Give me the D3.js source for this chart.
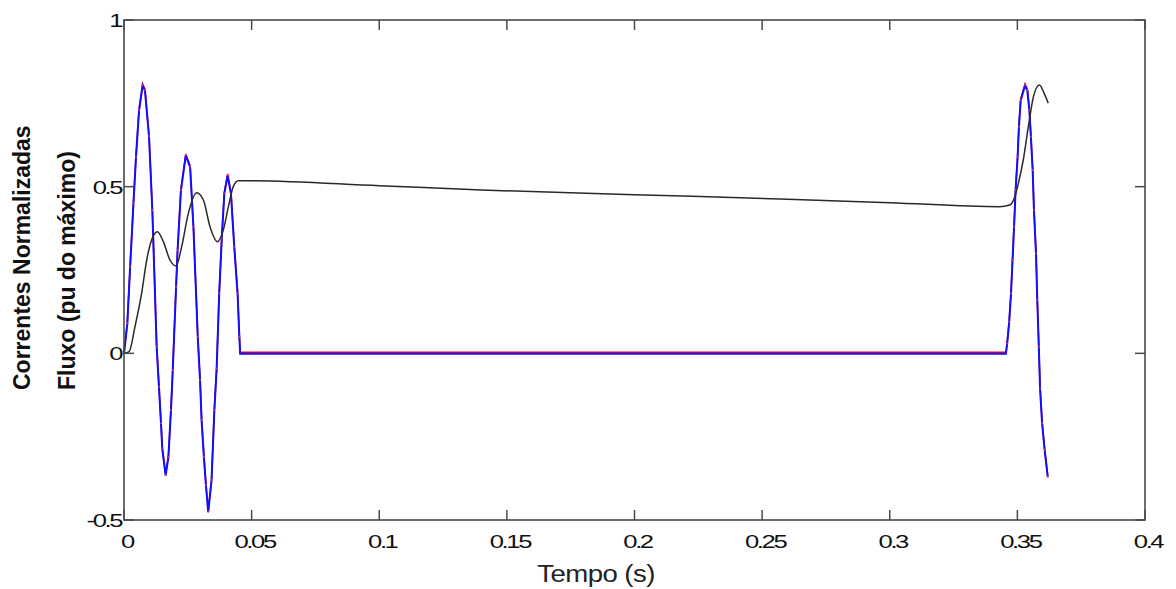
<!DOCTYPE html>
<html>
<head>
<meta charset="utf-8">
<script src="https://cdn.jsdelivr.net/npm/d3@7"></script>
<style>
  body { margin: 0; background: #fff; }
  svg text { font-family: "Liberation Sans", Arial, sans-serif; }
</style>
</head>
<body>
<svg id="chart" width="1176" height="589"></svg>
<script>
// Correntes (azul / vermelho) - tempo em s, valor em pu
var curT = [0, 0.0013, 0.0024, 0.0037, 0.0047, 0.0059, 0.0073, 0.0082, 0.0098, 0.0111,
  0.0128, 0.0137, 0.0145, 0.0150, 0.0163, 0.0174, 0.0184, 0.0191, 0.0204, 0.0210,
  0.0223, 0.0242, 0.0259, 0.0272, 0.0289, 0.0298, 0.0304, 0.0313, 0.0321, 0.0330,
  0.0343, 0.0354, 0.0363, 0.0373, 0.0383, 0.0393, 0.0406, 0.0419, 0.0432, 0.0445,
  0.0452, 0.0455, 0.3455, 0.3460, 0.3468, 0.3475, 0.3481, 0.3487, 0.3493, 0.3501,
  0.3506, 0.3513, 0.3530, 0.3539, 0.3547, 0.3553, 0.3560, 0.3565, 0.3573, 0.3578,
  0.3584, 0.3589, 0.3597, 0.3607, 0.3619];
var curV = [0, 0.09, 0.26, 0.45, 0.59, 0.73, 0.805, 0.79, 0.652, 0.43,
  0.02, -0.10, -0.21, -0.285, -0.365, -0.31, -0.17, -0.05, 0.20, 0.31,
  0.49, 0.595, 0.56, 0.38, 0.05, -0.08, -0.20, -0.31, -0.395, -0.475,
  -0.38, -0.17, -0.045, 0.18, 0.345, 0.48, 0.535, 0.48, 0.32, 0.18,
  0.05, 0, 0, 0.03, 0.095, 0.18, 0.28, 0.38, 0.49, 0.59,
  0.68, 0.76, 0.805, 0.79, 0.73, 0.65, 0.55, 0.43, 0.30, 0.16,
  0.02, -0.105, -0.21, -0.29, -0.37];

// Fluxo (preto)
var fluxT = [0, 0.0020, 0.0043, 0.0069, 0.0089, 0.0108, 0.0131, 0.0154, 0.0180, 0.0204,
  0.0226, 0.0252, 0.0285, 0.0311, 0.0337, 0.0366, 0.0389, 0.0409, 0.0428, 0.0448,
  0.0480, 0.1000, 0.1400, 0.2000, 0.2570, 0.3000, 0.3430, 0.3470, 0.3490, 0.3504,
  0.3523, 0.3543, 0.3563, 0.3586, 0.3605, 0.3621];
var fluxV = [0, 0.005, 0.08, 0.18, 0.28, 0.34, 0.365, 0.335, 0.28, 0.262,
  0.32, 0.42, 0.482, 0.46, 0.38, 0.335, 0.37, 0.44, 0.50, 0.518,
  0.518, 0.503, 0.49, 0.476, 0.463, 0.452, 0.44, 0.445, 0.47, 0.51,
  0.58, 0.68, 0.77, 0.805, 0.78, 0.75];

var xTicks = [0, 0.05, 0.1, 0.15, 0.2, 0.25, 0.3, 0.35, 0.4];
var xTickLabels = ["0", "0.05", "0.1", "0.15", "0.2", "0.25", "0.3", "0.35", "0.4"];
var yTicks = [-0.5, 0, 0.5, 1];
var yTickLabels = ["-0.5", "0", "0.5", "1"];

var margin = { top: 20, right: 31, bottom: 69, left: 124 },
  width = 1176 - margin.left - margin.right,
  height = 589 - margin.top - margin.bottom;

var svg = d3.select("#chart")
  .append("g")
  .attr("transform", `translate(${margin.left},${margin.top})`);

var x = d3.scaleLinear().domain([0, 0.4]).range([0, width]);
var y = d3.scaleLinear().domain([-0.5, 1]).range([height, 0]);

var cur = curT.map((t, i) => [t, curV[i]]);
var flux = fluxT.map((t, i) => [t, fluxV[i]]);
var curLine = d3.line().x(d => x(d[0])).y(d => y(d[1]));

// red current (under blue)
svg.append("path")
  .datum(cur)
  .attr("d", curLine)
  .attr("transform", "translate(0,-1)")
  .style("fill", "none")
  .style("stroke", "#ff0000")
  .style("stroke-width", 1.5);

// blue current
svg.append("path")
  .datum(cur)
  .attr("d", curLine)
  .attr("transform", "translate(0,0.5)")
  .style("fill", "none")
  .style("stroke", "#1010ff")
  .style("stroke-width", 2);

// red sample dots
svg.selectAll(".dot")
  .data(cur.filter(d => d[1] !== 0))
  .enter().append("circle")
  .attr("cx", d => x(d[0]))
  .attr("cy", d => y(d[1]))
  .attr("r", 0.9)
  .style("fill", "#ff3030");

// flux
svg.append("path")
  .datum(flux)
  .attr("d", d3.line().x(d => x(d[0])).y(d => y(d[1])).curve(d3.curveMonotoneX))
  .style("fill", "none")
  .style("stroke", "#2a2a2a")
  .style("stroke-width", 1.5);

// box + inward ticks
svg.append("rect")
  .attr("width", width).attr("height", height)
  .style("fill", "none").style("stroke", "#4a4a4a").style("stroke-width", 1.6);

var tl = 10;
xTicks.forEach(function (t) {
  svg.append("line").attr("x1", x(t)).attr("x2", x(t)).attr("y1", height).attr("y2", height - tl)
    .style("stroke", "#4a4a4a").style("stroke-width", 1.5);
  svg.append("line").attr("x1", x(t)).attr("x2", x(t)).attr("y1", 0).attr("y2", tl)
    .style("stroke", "#4a4a4a").style("stroke-width", 1.5);
});
yTicks.forEach(function (t) {
  svg.append("line").attr("x1", 0).attr("x2", tl).attr("y1", y(t)).attr("y2", y(t))
    .style("stroke", "#4a4a4a").style("stroke-width", 1.5);
  svg.append("line").attr("x1", width).attr("x2", width - tl).attr("y1", y(t)).attr("y2", y(t))
    .style("stroke", "#4a4a4a").style("stroke-width", 1.5);
});

// tick labels (stretched like the original image)
svg.selectAll(".xl")
  .data(xTicks).enter()
  .append("text")
  .attr("transform", d => `translate(${x(d) + 3},${height + 28}) scale(1.35,1)`)
  .attr("text-anchor", "middle")
  .style("font-size", "19px")
  .style("letter-spacing", "-1.8px")
  .style("fill", "#111")
  .text((d, i) => xTickLabels[i]);

svg.selectAll(".yl")
  .data(yTicks).enter()
  .append("text")
  .attr("transform", d => `translate(-3,${y(d) + 7}) scale(1.35,1)`)
  .attr("text-anchor", "end")
  .style("font-size", "19px")
  .style("letter-spacing", "-1.8px")
  .style("fill", "#111")
  .text((d, i) => yTickLabels[i]);

// axis titles
svg.append("text")
  .attr("transform", `translate(${596 - margin.left},${height + 62}) scale(1.15,1)`)
  .attr("text-anchor", "middle")
  .style("font-size", "24px")
  .style("letter-spacing", "-0.5px")
  .style("fill", "#222")
  .text("Tempo (s)");

svg.append("text")
  .attr("transform", `translate(${30 - margin.left},${390 - margin.top}) rotate(-90)`)
  .style("font-size", "23px")
  .style("font-weight", "bold")
  .style("fill", "#111")
  .text("Correntes Normalizadas");

svg.append("text")
  .attr("transform", `translate(${75 - margin.left},${390 - margin.top}) rotate(-90)`)
  .style("font-size", "23px")
  .style("font-weight", "bold")
  .style("fill", "#111")
  .text("Fluxo (pu do máximo)");
</script>
</body>
</html>
